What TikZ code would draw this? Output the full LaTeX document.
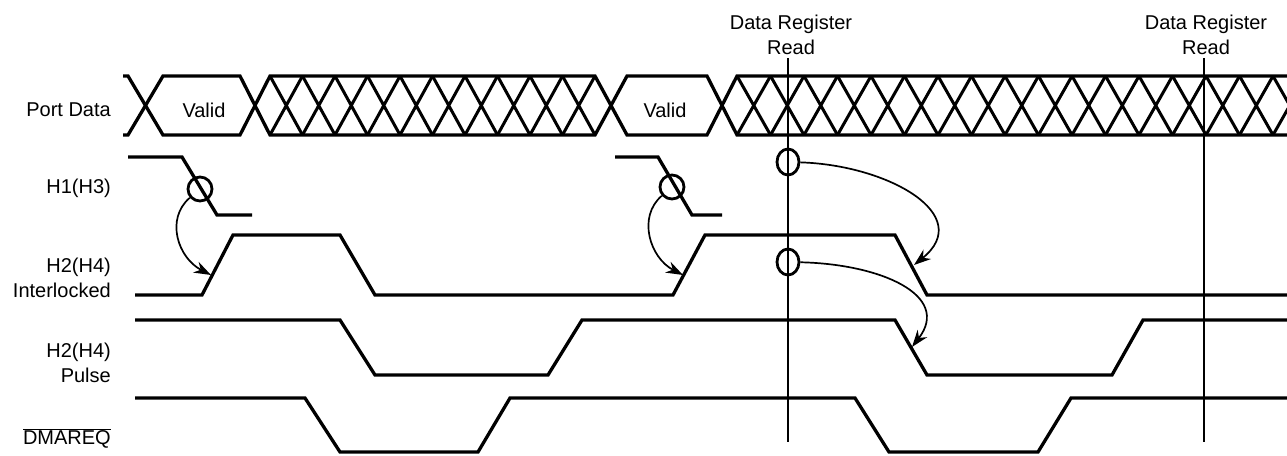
\documentclass[tikz,border=0pt]{standalone}
\usepackage{fontspec}
\setmainfont{Liberation Sans}
\usetikzlibrary{arrows.meta,shapes.geometric}
\tikzset{
    signal/.style = {
        line width=3.3pt,
        },
    bus edge/.style = {
        line width=3.3pt,
        },
    hatch/.style = {
        line width=3pt,
        },
    read line/.style = {
        line width=1.8pt,
        },
    ring/.style = {
        draw, circle,
        line width=2.8pt,
        minimum size=24pt,
        inner sep=0pt,
        },
    tall ring/.style = {
        draw, ellipse,
        line width=2.8pt,
        minimum width=22pt,
        minimum height=26pt,
        inner sep=0pt,
        },
    cause/.style = {
        line width=1.7pt,
        -{Stealth[length=17pt,width=12pt]},
        },
    sig name/.style = {
        anchor=east,
        align=right,
        inner sep=0pt,
        },
}
\begin{document}
\begin{tikzpicture}[x=1pt, y=-1pt, font=\fontsize{20}{25}\selectfont]
            \useasboundingbox (0,0) rectangle (1287,455);

            \node[sig name] (port) at (111,110) {Port Data};
            \node[sig name] (hone) at (111,188) {H1(H3)};
            \node[sig name] (hlock) at (111,278) {H2(H4)\\Interlocked};
            \node[sig name] (hpulse) at (111,363) {H2(H4)\\Pulse};
            \node[sig name] (dmareq) at (111,438) {$\overline{\mbox{DMAREQ}}$};

            % port data bus
            \draw[bus edge] (123,76) -- (128,76) -- (163,135) -- (240,135) -- (270,76) -- (595,76) -- (627,135) -- (707,135) -- (737,76) -- (1287,76);
            \draw[bus edge] (123,135) -- (128,135) -- (163,76) -- (240,76) -- (270,135) -- (595,135) -- (627,76) -- (707,76) -- (737,135) -- (1287,135);
            \foreach \k in {0,...,9}
                \draw[hatch] (270+32.5*\k,76) -- (302.5+32.5*\k,135) (270+32.5*\k,135) -- (302.5+32.5*\k,76);
            \begin{scope}
                \clip (737,60) rectangle (1287,150);
                \foreach \k in {0,...,16}
                    \draw[hatch] (737+33.5*\k,76) -- (770.5+33.5*\k,135) (737+33.5*\k,135) -- (770.5+33.5*\k,76);
            \end{scope}
            \node (validA) at (204,110) {Valid};
            \node (validB) at (665,110) {Valid};

            % handshake lines
            \draw[signal] (128,157) -- (182,157) -- (217,215) -- (252,215);
            \draw[signal] (615,157) -- (658,157) -- (692,215) -- (722,215);
            \draw[signal] (135,295) -- (202,295) -- (233,235) -- (340,235) -- (375,295) -- (673,295) -- (705,235) -- (895,235) -- (927,295) -- (1287,295);
            \draw[signal] (135,320) -- (340,320) -- (375,375) -- (548,375) -- (582,320) -- (895,320) -- (927,375) -- (1112,375) -- (1143,320) -- (1287,320);
            \draw[signal] (135,398) -- (305,398) -- (340,452) -- (478,452) -- (510,398) -- (855,398) -- (889,452) -- (1038,452) -- (1071,398) -- (1287,398);

            % data register reads
            \node[align=center] (readA) at (791,35) {Data Register\\Read};
            \node[align=center] (readB) at (1206,35) {Data Register\\Read};
            \coordinate (readAbot) at (788,442);
            \coordinate (readBbot) at (1204,442);
            \draw[read line] (readA.south -| readAbot) -- (readAbot);
            \draw[read line] (readB.south -| readBbot) -- (readBbot);

            \node[ring] (ringA) at (200,189) {};
            \node[ring] (ringB) at (672,187) {};
            \node[tall ring] (ringC) at (788,162) {};
            \node[tall ring] (ringD) at (788,262) {};
            \coordinate (tipA) at (211,275);
            \coordinate (tipB) at (683,275);
            \coordinate (tipC) at (914,265);
            \coordinate (tipD) at (912,347);

            \draw[cause] (ringA) .. controls +(-35,30) and +(-33,-17) .. (tipA);
            \draw[cause] (ringB) .. controls +(-35,30) and +(-33,-17) .. (tipB);
            \draw[cause] (ringC) .. controls +(100,3) and +(62,-50) .. (tipC);
            \draw[cause] (ringD) .. controls +(92,2) and +(40,-52) .. (tipD);
        \end{tikzpicture}
\end{document}
